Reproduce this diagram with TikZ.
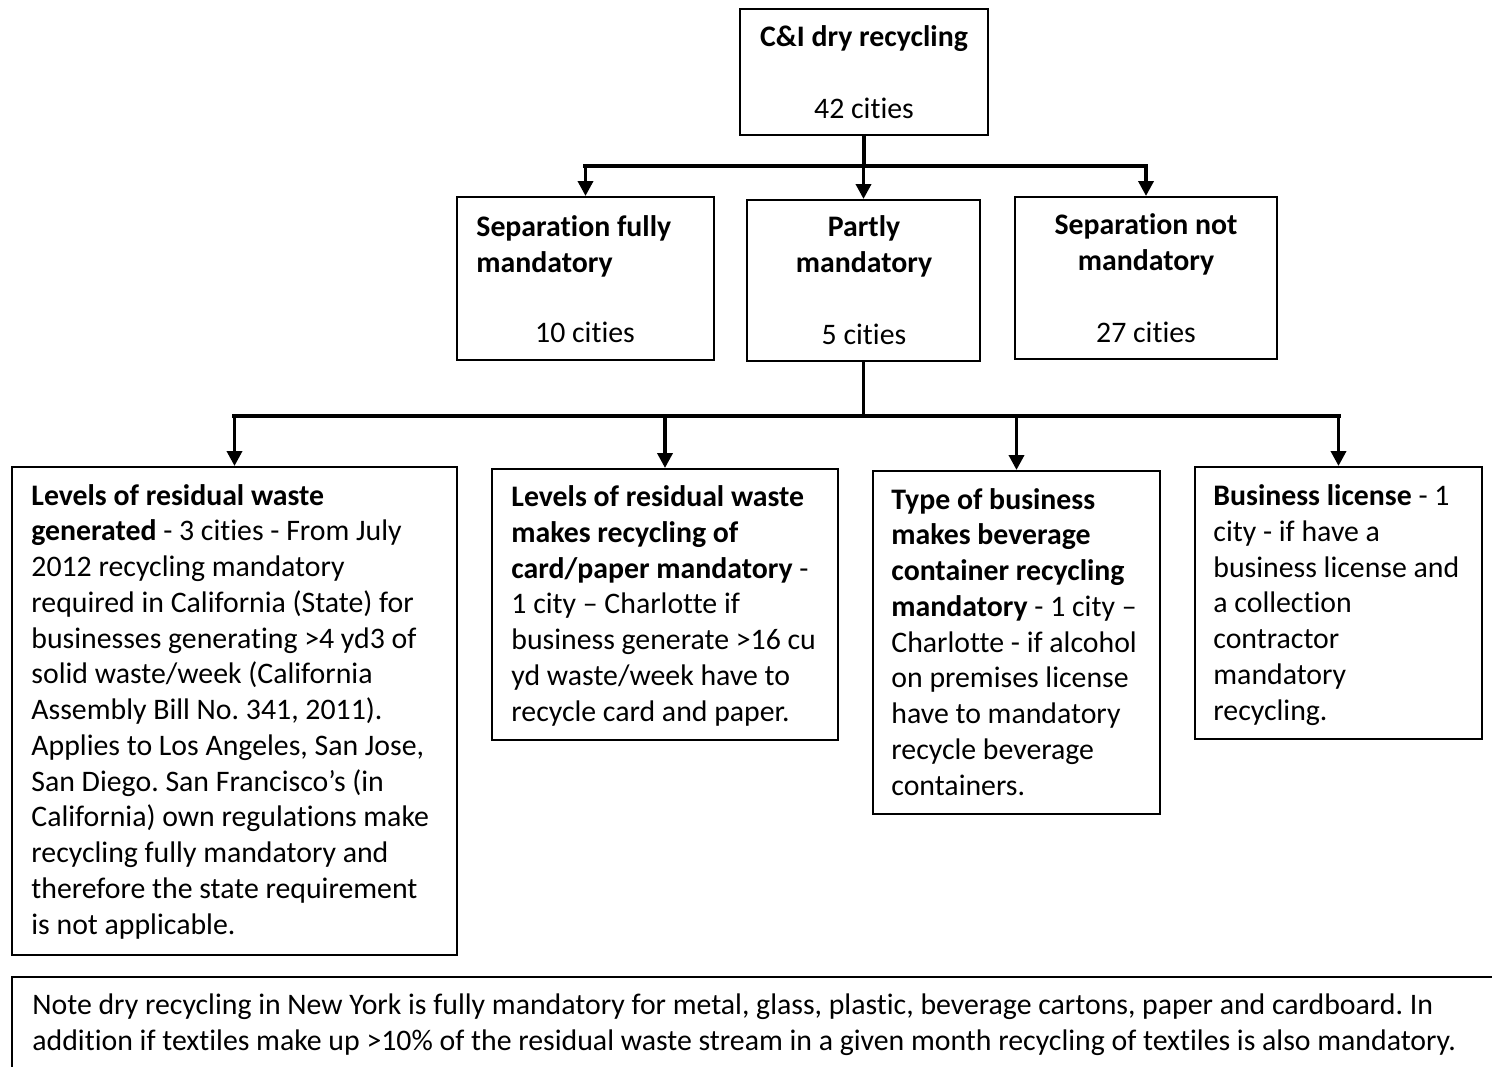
\documentclass[tikz,border=0pt]{standalone}
\usepackage{fontspec}
\setmainfont{Carlito}[Ligatures=NoCommon]
\frenchspacing
\usetikzlibrary{arrows.meta,fit}

\begin{document}
\begin{tikzpicture}[x=0.5pt, y=-0.5pt,
    caja/.style={draw, line width=1pt, inner sep=0pt},
    texto/.style={inner sep=0pt, align=left, font=\fontsize{14.9pt}{17.875pt}\selectfont},
    flecha/.style={line width=1.8pt, -{Triangle[length=7.5pt, width=7.5pt]}},
    barra/.style={line width=2.4pt, line cap=rect}]
    % Fondo
    \fill[white] (0,0) rectangle (1492,1066);
    \useasboundingbox (0,0) rectangle (1492,1066);

    % Dibuja las cajas
    \node[caja, fit={(740,9) (988,135)}] (raiz) {};
    \node[caja, fit={(457,197) (714,360)}] (total) {};
    \node[caja, fit={(747,200) (980,361)}] (parcial) {};
    \node[caja, fit={(1015,197) (1277,359)}] (ninguna) {};
    \node[caja, fit={(12,467) (457,955)}] (residuos) {};
    \node[caja, fit={(492,469) (838,740)}] (carton) {};
    \node[caja, fit={(873,471) (1160,814)}] (envases) {};
    \node[caja, fit={(1195,467) (1482,739)}] (licencia) {};
    \node[caja, fit={(12,977) (1510,1080)}] (nota) {};

    % Dibuja los conectores
    \path (raiz.south) ++(0,30) coordinate (j1);
    \path (parcial.south) ++(0,54) coordinate (j2);
    \draw[line width=1.8pt] (raiz.south) -- (j1);
    \draw[barra] (j1 -| total.north) -- (j1 -| ninguna.north);
    \draw[flecha] (j1 -| total.north) -- (total.north);
    \draw[flecha] (j1 -| parcial.north) -- (parcial.north);
    \draw[flecha] (j1 -| ninguna.north) -- (ninguna.north);
    \draw[line width=1.8pt] (parcial.south) -- (j2);
    \draw[barra] (j2 -| residuos.north) -- (j2 -| licencia.north);
    \draw[flecha] (j2 -| residuos.north) -- (residuos.north);
    \draw[flecha] (j2 -| carton.north) -- (carton.north);
    \draw[flecha] (j2 -| envases.north) -- (envases.north);
    \draw[flecha] (j2 -| licencia.north) -- (licencia.north);

    % Textos (anclados en la ultima linea)
    \node[texto, align=center, anchor=base] (raizT) at (864,118)
        {\textbf{C\&I dry recycling}\\~\\42 cities};
    \node[texto, anchor=base west] (totalT) at (476,272)
        {\textbf{Separation fully}\\\textbf{mandatory}};
    \node[texto, anchor=base] (totalN) at (585,342) {10 cities};
    \node[texto, align=center, anchor=base] (parcialT) at (864,344)
        {\textbf{Partly}\\\textbf{mandatory}\\~\\5 cities};
    \node[texto, align=center, anchor=base] (ningunaT) at (1146,342)
        {\textbf{Separation not}\\\textbf{mandatory}\\~\\27 cities};
    \node[texto, anchor=base west] (residuosT) at (31,934)
        {\textbf{Levels of residual waste}\\
         \textbf{generated} - 3 cities - From July\\
         2012 recycling mandatory\\
         required in California (State) for\\
         businesses generating >4 yd3 of\\
         solid waste/week (California\\
         Assembly Bill No. 341, 2011).\\
         Applies to Los Angeles, San Jose,\\
         San Diego. San Francisco’s (in\\
         California) own regulations make\\
         recycling fully mandatory and\\
         therefore the state requirement\\
         is not applicable.};
    \node[texto, anchor=base west] (cartonT) at (511,721)
        {\textbf{Levels of residual waste}\\
         \textbf{makes recycling of}\\
         \textbf{card/paper mandatory} -\\
         1 city – Charlotte if\\
         business generate >16 cu\\
         yd waste/week have to\\
         recycle card and paper.};
    \node[texto, anchor=base west] (envasesT) at (891,795)
        {\textbf{Type of business}\\
         \textbf{makes beverage}\\
         \textbf{container recycling}\\
         \textbf{mandatory} - 1 city –\\
         Charlotte - if alcohol\\
         on premises license\\
         have to mandatory\\
         recycle beverage\\
         containers.};
    \node[texto, anchor=base west] (licenciaT) at (1213,720)
        {\textbf{Business license} - 1\\
         city - if have a\\
         business license and\\
         a collection\\
         contractor\\
         mandatory\\
         recycling.};
    \node[texto, anchor=base west] (notaT) at (32,1050)
        {Note dry recycling in New York is fully mandatory for metal, glass, plastic, beverage cartons, paper and cardboard. In\\
         addition if textiles make up >10\% of the residual waste stream in a given month recycling of textiles is also mandatory.};
\end{tikzpicture}
\end{document}
